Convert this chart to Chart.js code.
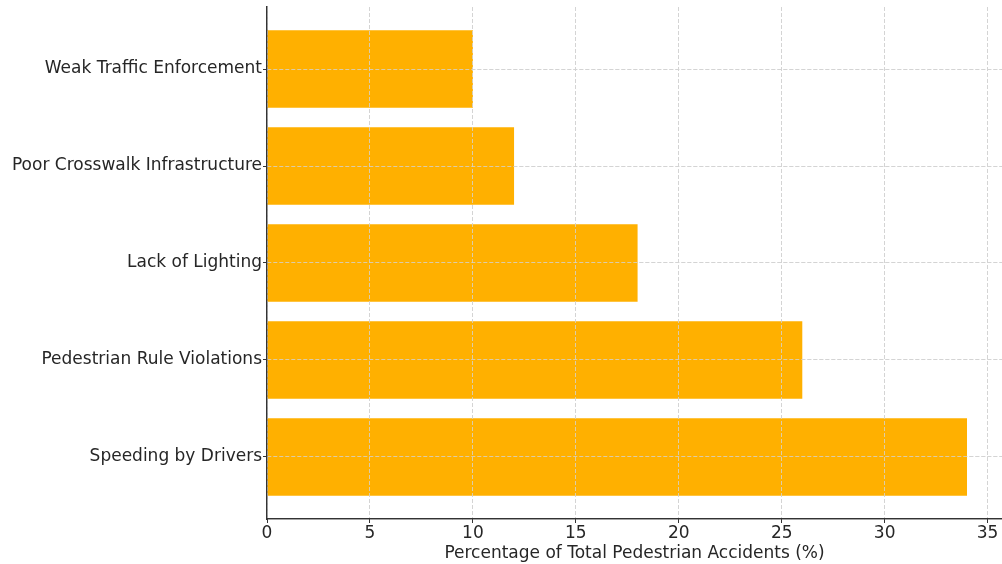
<!DOCTYPE html>
<html>
<head>
<meta charset="utf-8">
<script src="https://cdn.jsdelivr.net/npm/chart.js@4.4.1/dist/chart.umd.min.js"></script>
<style>
  html, body { margin: 0; padding: 0; background: #ffffff; }
  #wrap { width: 1002px; height: 564px; position: relative; }
</style>
</head>
<body>
<div id="wrap"><canvas id="chart" width="1002" height="564"></canvas></div>
<script>
// Causes, listed bottom to top
const categories = [
  'Speeding by Drivers',
  'Pedestrian Rule Violations',
  'Lack of Lighting',
  'Poor Crosswalk Infrastructure',
  'Weak Traffic Enforcement'
];
const percentages = [34, 26, 18, 12, 10];
const xTickValues = [0, 5, 10, 15, 20, 25, 30, 35];

const barColor = '#FFB000';
const gridColor = '#d3d3d3';
const spineColor = '#333333';
const textColor = '#262626';
const fontFamily = "'DejaVu Sans', sans-serif";

// Grid lines sit on top of the bars, with the axis lines over them
const gridOnTop = {
  id: 'gridOnTop',
  afterDatasetsDraw(chart) {
    const area = chart.chartArea;
    chart.scales.x.drawGrid(area);
    chart.scales.y.drawGrid(area);
    chart.scales.x.drawBorder();
    chart.scales.y.drawBorder();
  }
};

new Chart(document.getElementById('chart'), {
  type: 'bar',
  data: {
    datasets: [{
      data: percentages.map((v, i) => ({ x: v, y: i })),
      backgroundColor: barColor,
      borderWidth: 0,
      categoryPercentage: 1.0,
      barPercentage: 0.8
    }]
  },
  options: {
    responsive: false,
    animation: false,
    indexAxis: 'y',
    layout: { padding: { top: 7, right: 0, left: 0, bottom: 0 } },
    plugins: {
      legend: { display: false },
      tooltip: { enabled: false }
    },
    scales: {
      x: {
        type: 'linear',
        min: 0,
        max: 35.7,
        offset: false,
        afterBuildTicks: axis => { axis.ticks = xTickValues.map(v => ({ value: v })); },
        afterFit: axis => {
          axis.height = 45;
          axis.paddingLeft = 0;
          axis.paddingRight = 0;
        },
        grid: {
          color: gridColor,
          lineWidth: 0.8,
          offset: false,
          tickColor: spineColor,
          tickLength: 4,
          tickWidth: 1
        },
        border: { display: true, color: spineColor, width: 1.3, dash: [4, 2] },
        ticks: {
          color: textColor,
          font: { family: fontFamily, size: 17 },
          padding: 0,
          maxRotation: 0
        },
        title: {
          display: true,
          text: 'Percentage of Total Pedestrian Accidents (%)',
          color: textColor,
          font: { family: fontFamily, size: 17 },
          padding: { top: 0, bottom: 0 }
        }
      },
      y: {
        type: 'linear',
        min: -0.64,
        max: 4.64,
        offset: false,
        afterBuildTicks: axis => { axis.ticks = categories.map((_, i) => ({ value: i })); },
        afterFit: axis => {
          axis.width = 267;
          axis.paddingTop = 0;
          axis.paddingBottom = 0;
        },
        grid: {
          color: gridColor,
          lineWidth: 0.8,
          offset: false,
          tickColor: spineColor,
          tickLength: 4,
          tickWidth: 1
        },
        border: { display: true, color: spineColor, width: 1.3, dash: [4, 2] },
        ticks: {
          color: textColor,
          font: { family: fontFamily, size: 17 },
          padding: 1,
          callback: v => categories[v]
        }
      }
    }
  },
  plugins: [gridOnTop]
});
</script>
</body>
</html>
